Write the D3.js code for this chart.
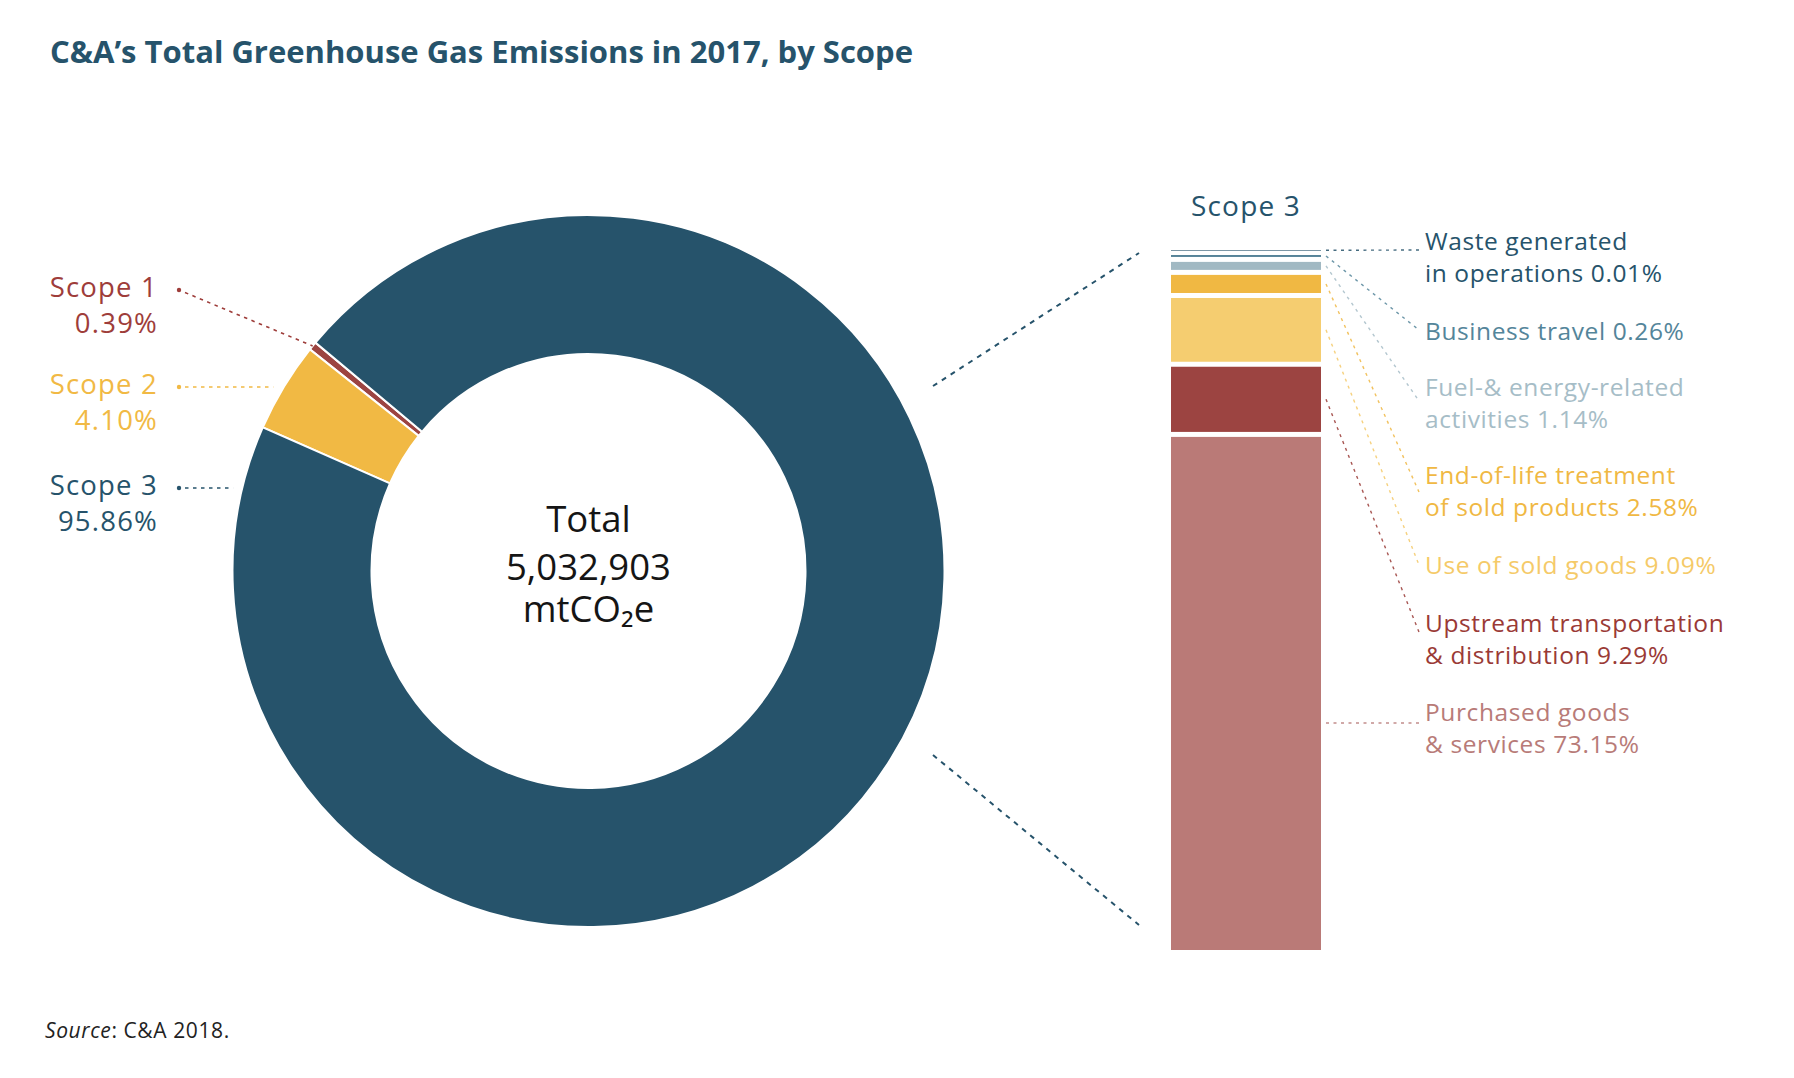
<!DOCTYPE html>
<html>
<head>
<meta charset="utf-8">
<script src="https://cdn.jsdelivr.net/npm/d3@7"></script>
<style>
  body { margin: 0; background: #fff; }
  svg text { font-family: "Open Sans", "Lato", sans-serif; }
</style>
</head>
<body>
<div class="draw-chart"></div>
<script>
// data
const scopeNames = ["Scope 1", "Scope 2", "Scope 3"];
const scopeShares = [0.39, 4.10, 95.86];
const scopeColors = ["#9c4441", "#f1b944", "#26536b"];
const totalEmissions = 5032903;

const scope3Categories = [
  "Waste generated in operations",
  "Business travel",
  "Fuel-& energy-related activities",
  "End-of-life treatment of sold products",
  "Use of sold goods",
  "Upstream transportation & distribution",
  "Purchased goods & services"
];
const scope3Shares = [0.01, 0.26, 1.14, 2.58, 9.09, 9.29, 73.15];
const scope3Lines = [
  ["Waste generated", "in operations"],
  ["Business travel"],
  ["Fuel-& energy-related", "activities"],
  ["End-of-life treatment", "of sold products"],
  ["Use of sold goods"],
  ["Upstream transportation", "& distribution"],
  ["Purchased goods", "& services"]
];
const scope3Colors = ["#26536b", "#4a7b91", "#a1b9c3", "#f0b843", "#f5cd70", "#9c4441", "#ba7a77"];
const scope3TextColors = ["#26536b", "#54859a", "#a6bdc7", "#f0b843", "#f5ca68", "#9a3a36", "#b87b78"];

const draw = () => {
  const W = 1794, H = 1078;
  const svg = d3.select(".draw-chart").append("svg")
    .attr("width", W).attr("height", H);

  const navy = "#26536b";
  const fmtPct = d3.format(".2f");

  // title
  svg.append("text")
    .attr("x", 50).attr("y", 63)
    .attr("font-size", 31).attr("font-weight", 700)
    .attr("fill", navy)
    .text("C&A\u2019s Total Greenhouse Gas Emissions in 2017, by Scope");

  // donut
  const cx = 588.5, cy = 571, rOut = 356, rIn = 217;
  const g = svg.append("g").attr("transform", "translate(" + cx + "," + cy + ")");
  const order = [1, 0, 2]; // clockwise: scope 2, scope 1, scope 3
  const start = -66.2 * Math.PI / 180;
  const pie = d3.pie()
    .sort((a, b) => order.indexOf(a) - order.indexOf(b))
    .value(i => scopeShares[i])
    .startAngle(start).endAngle(start + 2 * Math.PI);
  const arcs = pie(d3.range(scopeShares.length));
  const arc = d3.arc().innerRadius(rIn).outerRadius(rOut);

  g.selectAll("path.slice")
    .data(arcs)
    .join("path")
    .attr("class", "slice")
    .attr("d", arc)
    .attr("fill", d => scopeColors[d.data])
    .attr("stroke", "#fff")
    .attr("stroke-width", 2);

  // centre text
  const ct = svg.append("g").attr("font-size", 36.5).attr("fill", "#151515").attr("text-anchor", "middle");
  ct.append("text").attr("x", cx).attr("y", 532).text("Total");
  ct.append("text").attr("x", cx).attr("y", 580).text(d3.format(",")(totalEmissions));
  ct.append("text").attr("x", cx).attr("y", 622)
    .text("mtCO\u2082e");

  // scope labels on the left
  const labelX = 158, dotX = 179;
  const scopeBaselines = [297, 394, 495];
  scopeNames.forEach((name, i) => {
    const col = i === 0 ? "#9e3d3a" : scopeColors[i];
    const t = svg.append("text")
      .attr("text-anchor", "end").attr("font-size", 27.5)
      .attr("letter-spacing", 1.2).attr("fill", col);
    t.append("tspan").attr("x", labelX).attr("y", scopeBaselines[i]).text(name);
    t.append("tspan").attr("x", labelX).attr("y", scopeBaselines[i] + 36).text(fmtPct(scopeShares[i]) + "%");

    const y0 = scopeBaselines[i] - 7;
    let x1, y1;
    const a = arcs.find(d => d.data === i);
    if (i === 0) {
      const m = (a.startAngle + a.endAngle) / 2;
      x1 = cx + rOut * Math.sin(m);
      y1 = cy - rOut * Math.cos(m);
    } else {
      const dy = y0 - cy, rr = rOut + 9;
      x1 = cx - Math.sqrt(rr * rr - dy * dy);
      y1 = y0;
    }
    svg.append("circle").attr("cx", dotX).attr("cy", y0).attr("r", 2.2).attr("fill", col);
    svg.append("line")
      .attr("x1", dotX + 6).attr("y1", y0 + (y1 - y0) * 6 / (x1 - dotX))
      .attr("x2", x1).attr("y2", y1)
      .attr("stroke", col).attr("stroke-width", 1.6)
      .attr("stroke-dasharray", "3.5,4.5");
  });

  // stacked bar for scope 3
  const barX = 1171, barW = 150, barTop = 250, barBottom = 950, gap = 5;
  const n = scope3Shares.length;
  const y = d3.scaleLinear()
    .domain([0, d3.sum(scope3Shares)])
    .range([0, barBottom - barTop - gap * (n - 1)]);
  const cum = d3.cumsum(scope3Shares);
  const segs = scope3Shares.map((v, i) => {
    const y0 = barTop + y(cum[i] - v) + gap * i;
    const h = Math.max(y(v), 0.6);
    return { i, v, y0, h };
  });

  svg.selectAll("rect.seg")
    .data(segs)
    .join("rect")
    .attr("class", "seg")
    .attr("x", barX).attr("width", barW)
    .attr("y", d => d.y0).attr("height", d => d.h)
    .attr("fill", d => scope3Colors[d.i]);

  svg.append("text")
    .attr("x", barX + barW / 2).attr("y", 216)
    .attr("text-anchor", "middle").attr("font-size", 28)
    .attr("letter-spacing", 1.2).attr("fill", navy)
    .text("Scope 3");

  // connectors from donut to bar
  const conn = [[933, 386, 1139, 253], [933, 755, 1139, 925]];
  svg.selectAll("line.conn")
    .data(conn)
    .join("line")
    .attr("class", "conn")
    .attr("x1", d => d[0]).attr("y1", d => d[1])
    .attr("x2", d => d[2]).attr("y2", d => d[3])
    .attr("stroke", navy).attr("stroke-width", 2)
    .attr("stroke-dasharray", "5,5.5");

  // labels for scope 3 categories
  const txtX = 1425, lineH = 32;
  const firstBaselines = [250, 340, 396, 484, 574, 632, 721];
  const anchorOffsets = [0, -10, 5, 8, -9, 0, 2];
  segs.forEach((s, i) => {
    const lines = scope3Lines[i].slice();
    const last = lines.length - 1;
    lines[last] = lines[last] + " " + fmtPct(s.v) + "%";
    const t = svg.append("text").attr("font-size", 24.5)
      .attr("letter-spacing", 0.6).attr("fill", scope3TextColors[i]);
    lines.forEach((ln, k) => {
      t.append("tspan").attr("x", txtX).attr("y", firstBaselines[i] + k * lineH).text(ln);
    });

    const ey = firstBaselines[i] + anchorOffsets[i];
    const sy = i === n - 1 ? ey : s.y0 + s.h / 2;
    svg.append("line")
      .attr("x1", barX + barW + 5).attr("y1", sy)
      .attr("x2", txtX - 6).attr("y2", ey)
      .attr("stroke", scope3TextColors[i]).attr("stroke-width", 1.4)
      .attr("stroke-dasharray", "3,4.5")
      .attr("opacity", 0.85);
  });

  // source
  const src = svg.append("text").attr("x", 45).attr("y", 1038)
    .attr("font-size", 21).attr("letter-spacing", 0.6).attr("fill", "#222");
  src.append("tspan").attr("font-style", "italic").text("Source");
  src.append("tspan").text(": C&A 2018.");
};

draw();
</script>
</body>
</html>
